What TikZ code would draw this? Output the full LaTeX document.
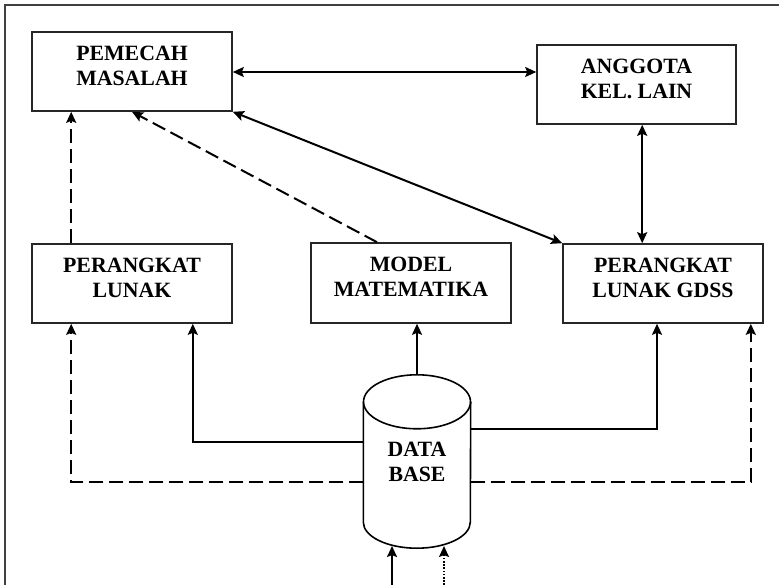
\documentclass[tikz,border=0pt]{standalone}
\usepackage{fontspec}
\setmainfont{Liberation Serif}
\usetikzlibrary{arrows.meta,calc}
\begin{document}
\begin{tikzpicture}[x=1pt,y=-1pt,
  box/.style={draw=black!85,line width=1.6pt,minimum width=200pt,minimum height=79pt,inner sep=0pt,
    align=center,font=\fontsize{21.8}{25}\selectfont\bfseries,text depth=12pt},
  arr/.style={line width=2pt,-{Stealth[length=11pt,width=10pt,inset=2pt]}},
  dbl/.style={line width=2pt,{Stealth[length=11pt,width=10pt,inset=2pt]}-{Stealth[length=11pt,width=10pt,inset=2pt]}},
  dsh/.style={dash pattern=on 14pt off 6pt},
  dot/.style={dash pattern=on 1.6pt off 1.6pt,line width=1.6pt}]
\useasboundingbox (0,0) rectangle (779,585);
\clip (0,0) rectangle (779,585);
% outer frame (cut at right and bottom)
\draw[black!75,line width=1.6pt] (5,5) rectangle (800,600);
% boxes
\node[box] (pm) at (132,71.5) {PEMECAH\\MASALAH};
\node[box,minimum width=199pt] (ag) at (636.5,84.5) {ANGGOTA\\KEL. LAIN};
\node[box] (pl) at (132,283.5) {PERANGKAT\\LUNAK};
\node[box,minimum height=80pt] (mm) at (411,283) {MODEL\\MATEMATIKA};
\node[box] (gd) at (663,283.5) {PERANGKAT\\LUNAK GDSS};
% database cylinder
\node[minimum width=107pt,minimum height=120pt,inner sep=0pt,align=center,
  font=\fontsize{21.8}{25}\selectfont\bfseries] (db) at (417,462) {DATA\\BASE};
\draw[line width=1.6pt] (db.north west) -- (db.south west)
  arc[start angle=180,end angle=360,x radius=53.5pt,y radius=26pt] -- (db.north east);
\draw[line width=1.6pt] (db.north) ellipse [x radius=53.5pt,y radius=27pt];
% upper connectors
\draw[dbl] (pm.east |- 0,72) -- (ag.west |- 0,72);
\draw[dbl] (pm.south east) -- (gd.north west);
\draw[dbl] ($(ag.south west)+(106,0)$) -- ($(gd.north west)+(80,0)$);
\draw[arr,dsh] ($(pl.north west)+(40,0)$) -- ($(pm.south west)+(40,0)$);
\draw[arr,dsh] ($(mm.north)+(-34,0)$) -- (pm.south);
% database connectors
\draw[arr] ($(db.north)+(0,-27)$) -- (mm.south -| db.north);
\draw[arr] (db.west |- 0,442) -| ($(pl.south east)+(-40,0)$);
\draw[arr] (db.east |- 0,429) -| ($(gd.south)+(-6,0)$);
\draw[arr,dsh] (db.west |- 0,482) -| ($(pl.south west)+(40,0)$);
\draw[arr,dsh] (db.east |- 0,482) -| ($(gd.south east)+(-13,0)$);
% inputs from below
\coordinate (in1) at (392,585);
\coordinate (in2) at (444,585);
\draw[arr] (in1) -- (in1 |- 0,546);
\draw[arr,dot] (in2) -- (in2 |- 0,546);
\end{tikzpicture}
\end{document}
